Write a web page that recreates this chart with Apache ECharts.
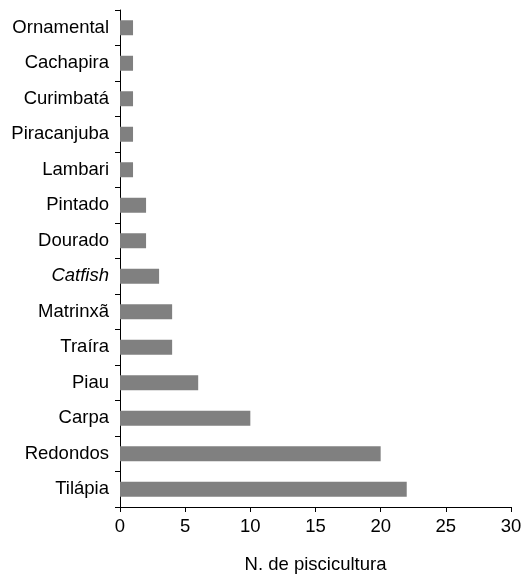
<!DOCTYPE html>
<html><head><meta charset="utf-8">
<script src="https://cdn.jsdelivr.net/npm/echarts@6/dist/echarts.min.js"></script>
<style>html,body{margin:0;padding:0;background:#fff}#c{width:523px;height:575px}</style>
</head><body><div id="c"></div>
<script>
const categories = ['Tilápia','Redondos','Carpa','Piau','Traíra','Matrinxã','Catfish','Dourado','Pintado','Lambari','Piracanjuba','Curimbatá','Cachapira','Ornamental'];
const values = [22,20,10,6,4,4,3,2,2,1,1,1,1,1];
const xTicks = [0,5,10,15,20,25,30];
const chart = echarts.init(document.getElementById('c'));
chart.setOption({
  animation:false,
  grid:{left:120,right:12,top:10,bottom:68,containLabel:false,outerBoundsMode:'none'},
  xAxis:{type:'value',min:0,max:30,interval:5,
    name:'N. de piscicultura',nameLocation:'middle',nameGap:48,
    nameTextStyle:{fontFamily:'Liberation Sans',fontSize:18.5,color:'#000'},
    axisLine:{show:true,lineStyle:{color:'#000',width:1}},
    axisTick:{show:true,length:5,lineStyle:{color:'#000'}},
    axisLabel:{fontFamily:'Liberation Sans',fontSize:18.5,color:'#000',margin:10,
      formatter:v=>xTicks.includes(v)?String(v):''},
    splitLine:{show:false}},
  yAxis:{type:'category',data:categories,
    axisLine:{show:true,lineStyle:{color:'#000',width:1}},
    axisTick:{show:true,length:5,alignWithLabel:false,lineStyle:{color:'#000'}},
    axisLabel:{fontFamily:'Liberation Sans',fontSize:18.5,color:'#000',margin:11,
      formatter:v=>v==='Catfish'?'{i|'+v+'}':v,
      rich:{i:{fontStyle:'italic',fontFamily:'Liberation Sans',fontSize:18.5,color:'#000'}}},
    splitLine:{show:false}},
  series:[{type:'bar',data:values,barWidth:15,itemStyle:{color:'#808080'}}]
});
</script></body></html>
